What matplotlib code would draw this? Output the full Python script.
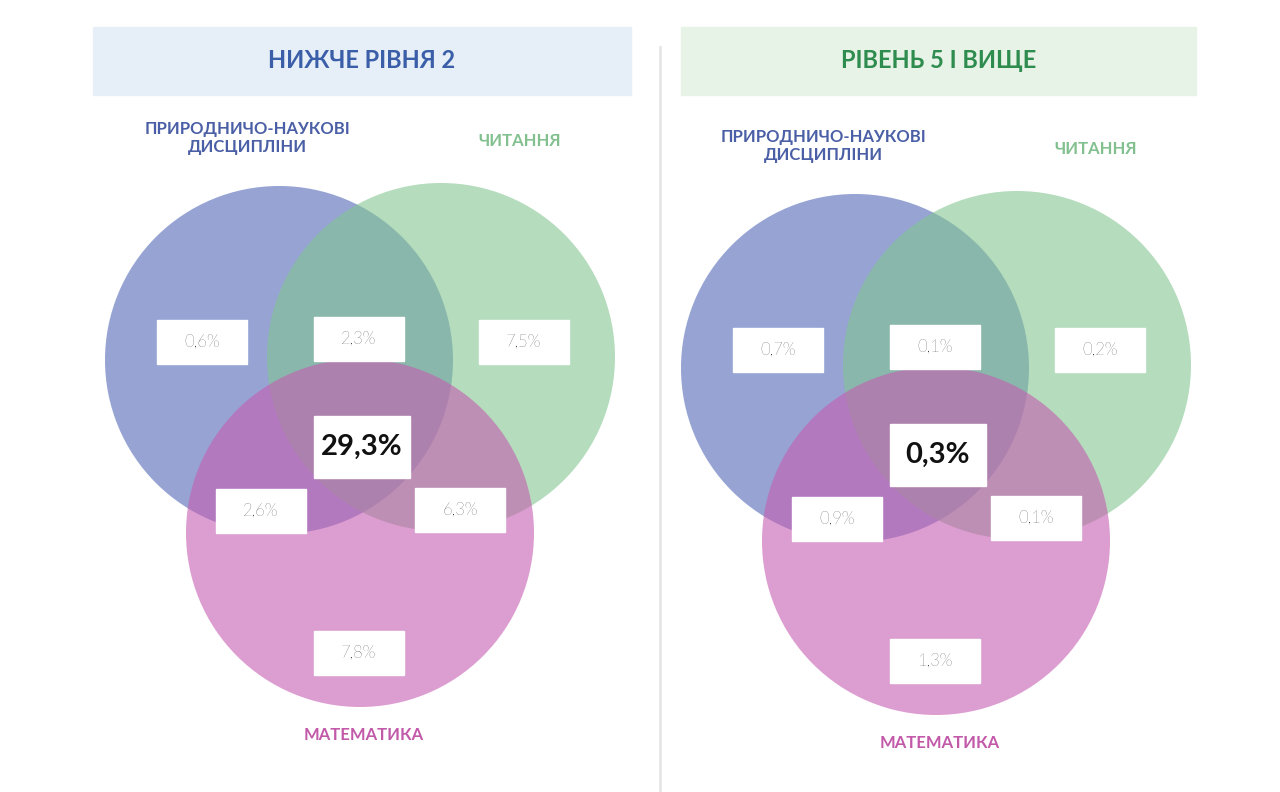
import matplotlib
matplotlib.use("Agg")
from matplotlib import pyplot as plt
from matplotlib.patches import Circle, Rectangle

plt.rcParams['font.family'] = ['Lato', 'DejaVu Sans']

# region order: sci only, sci+read, read only, all three, sci+math, read+math, math only
REGIONS = ["sci", "sci_read", "read", "all", "sci_math", "read_math", "math"]
below_2 = ["0,6%", "2,3%", "7,5%", "29,3%", "2,6%", "6,3%", "7,8%"]
level_5 = ["0,7%", "0,1%", "0,2%", "0,3%", "0,9%", "0,1%", "1,3%"]
titles = ["НИЖЧЕ РІВНЯ 2", "РІВЕНЬ 5 І ВИЩЕ"]
subjects = ["ПРИРОДНИЧО-НАУКОВІ\nДИСЦИПЛІНИ", "ЧИТАННЯ", "МАТЕМАТИКА"]

BLUE, GREEN, PINK = "#5066b7", "#82c591", "#c65db1"
SUBJ_COLORS = ["#4a5fa5", "#82c08f", "#c259a9"]


def draw_panel(ax, values, title, x0, hdr, hdr_color, title_color, cx, dy):
    ax.add_patch(Rectangle((x0, 27), hdr, 68, color=hdr_color, zorder=0))
    ax.text(x0 + hdr / 2, 61, title, ha="center", va="center", fontsize=17,
            fontweight="bold", color=title_color)
    r = 174
    for (dx, y), c in zip([(0, 360), (162, 357), (81, 533)], [BLUE, GREEN, PINK]):
        ax.add_patch(Circle((cx + dx, y + dy), r, color=c, alpha=0.6, lw=0, zorder=1))
    pos = [(-77, 342), (80, 339), (245, 342), (83, 447), (-18, 511), (181, 510), (80, 653)]
    for (dx, y), v, reg in zip(pos, values, REGIONS):
        big = reg == "all"
        w, h = (96, 62) if big else (90, 44)
        ax.add_patch(Rectangle((cx + dx - w / 2, y + dy - h / 2), w, h,
                               color="white", zorder=2))
        ax.text(cx + dx, y + dy, v, ha="center", va="center", zorder=3,
                fontsize=21 if big else 12, fontweight="bold" if big else "light",
                color="#111111")
    lab = [(-32, 138), (241, 141), (85, 735)]
    for (dx, y), s, c in zip(lab, subjects, SUBJ_COLORS):
        ax.text(cx + dx, y + dy, s, ha="center", va="center", fontsize=12,
                fontweight="bold", color=c, linespacing=1.1)


fig = plt.figure(figsize=(12.8, 7.92), dpi=100)
ax = fig.add_axes([0, 0, 1, 1])
ax.set_xlim(0, 1280)
ax.set_ylim(792, 0)
ax.axis("off")

draw_panel(ax, below_2, titles[0], 93, 538, "#e6eef8", "#3b5ea8", 279, 0)
draw_panel(ax, level_5, titles[1], 681, 515, "#e7f3e7", "#2f8c4f", 855, 8)
ax.plot([660, 660], [47, 792], color="#e6e6e6", lw=2)

fig.savefig("out.png", dpi=100)
